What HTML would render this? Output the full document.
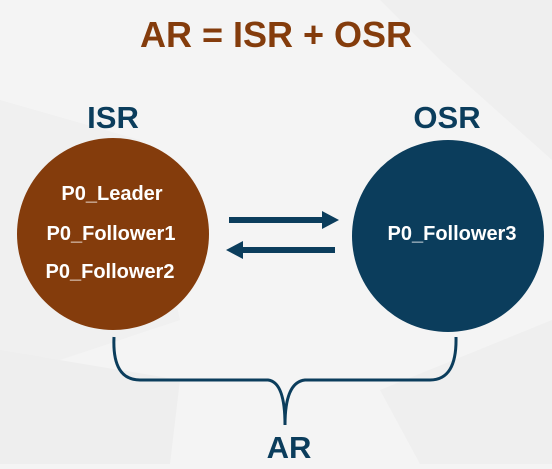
<!DOCTYPE html>
<html><head><style>
body{margin:0;width:552px;height:464px;overflow:hidden;background:#f4f4f4;font-family:"Liberation Sans",sans-serif;}
</style></head><body>
<svg width="552" height="464" xmlns="http://www.w3.org/2000/svg">
<polygon points="0,100 140,140 180,320 0,380" fill="#f0f0f0"/>
<polygon points="380,0 552,0 552,160 440,60" fill="#efefef"/>
<polygon points="0,350 180,380 170,464 0,464" fill="#eeeeee"/>
<polygon points="380,390 552,320 552,464 420,464" fill="#efefef"/>
<text x="276" y="47" text-anchor="middle" font-size="36" font-weight="bold" fill="#843c0c">AR = ISR + OSR</text>
<text x="113" y="128" text-anchor="middle" font-size="31" font-weight="bold" fill="#0b3d5c">ISR</text>
<text x="447" y="128" text-anchor="middle" font-size="31" font-weight="bold" fill="#0b3d5c">OSR</text>
<circle cx="113" cy="234" r="96" fill="#843c0c"/>
<circle cx="448" cy="236" r="96" fill="#0b3d5c"/>
<g font-size="20" font-weight="bold" fill="#fff" text-anchor="middle">
<text x="112" y="200">P0_Leader</text>
<text x="111" y="240">P0_Follower1</text>
<text x="110" y="278">P0_Follower2</text>
<text x="452" y="240">P0_Follower3</text>
</g>
<line x1="229" y1="220" x2="326" y2="220" stroke="#0b3d5c" stroke-width="6"/>
<polygon points="322,211 339,220 322,229" fill="#0b3d5c"/>
<line x1="240" y1="250" x2="335" y2="250" stroke="#0b3d5c" stroke-width="6"/>
<polygon points="243,241 226,250 243,259" fill="#0b3d5c"/>
<path d="M114,337 Q112,380 140,380 L268,380 Q285,382 285,425 Q285,382 305,380 L430,380 Q457,380 456,337" fill="none" stroke="#0b3d5c" stroke-width="3"/>
<text x="289" y="458" text-anchor="middle" font-size="31" font-weight="bold" fill="#0b3d5c">AR</text>
</svg>
</body></html>
